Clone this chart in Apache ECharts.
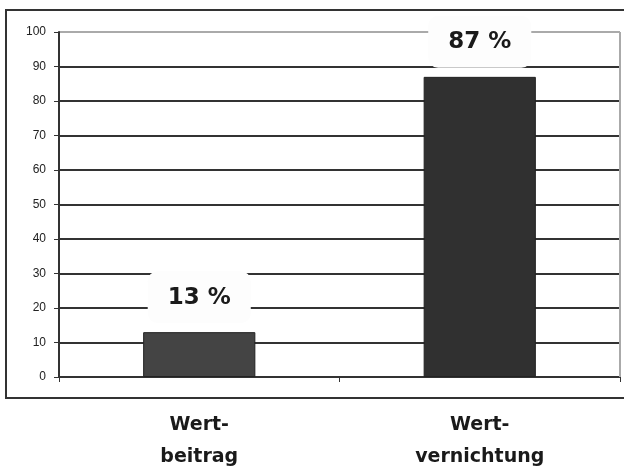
<!DOCTYPE html>
<html>
<head>
<meta charset="utf-8">
<script src="https://cdn.jsdelivr.net/npm/echarts@6/dist/echarts.min.js"></script>
<style>
  html, body { margin: 0; padding: 0; background: #fff; }
  #chart { width: 624px; height: 468px; }
</style>
</head>
<body>
<div id="chart"></div>
<script>
  var categories = ['Wert-\nbeitrag', 'Wert-\nvernichtung'];
  var values = [13, 87];
  var barColors = ['#444444', '#303030'];

  // gridlines 0..100: last one (100) is the light plot border
  var gridColors = ['#333', '#333', '#333', '#333', '#333', '#333', '#333', '#333', '#333', '#333', '#aaa'];

  var myChart = echarts.init(document.getElementById('chart'));
  myChart.setOption({
    animation: false,
    grid: {
      left: 59,
      right: 4,
      top: 32,
      bottom: 91,
      outerBoundsMode: 'none'
    },
    graphic: [{
      type: 'rect',
      shape: { x: 6, y: 10, width: 640, height: 388 },
      style: { fill: 'none', stroke: '#333', lineWidth: 2 },
      z: 0
    }, {
      type: 'line',
      shape: { x1: 620, y1: 32, x2: 620, y2: 377 },
      style: { stroke: '#aaa', lineWidth: 2 },
      z: 1
    }],
    xAxis: {
      type: 'category',
      data: categories,
      axisLine: { lineStyle: { color: '#333', width: 2 } },
      axisTick: { show: true, length: 5, lineStyle: { color: '#333' } },
      axisLabel: {
        color: '#1a1a1a',
        fontFamily: 'DejaVu Sans',
        fontWeight: 'bold',
        fontSize: 19,
        lineHeight: 32,
        margin: 32
      }
    },
    yAxis: {
      type: 'value',
      min: 0,
      max: 100,
      interval: 10,
      axisLine: { show: true, lineStyle: { color: '#333', width: 2 } },
      axisTick: { show: true, length: 5, lineStyle: { color: '#333' } },
      axisLabel: {
        color: '#222',
        fontFamily: 'Liberation Sans',
        fontSize: 12,
        margin: 13
      },
      splitLine: { lineStyle: { color: gridColors, width: 2 } }
    },
    series: [{
      type: 'bar',
      barWidth: '40%',
      data: values.map(function (v, i) {
        return { value: v, itemStyle: { color: barColors[i] } };
      }),
      itemStyle: { borderColor: '#222', borderWidth: 1 },
      label: {
        show: true,
        position: 'top',
        distance: 9,
        formatter: '{c} %',
        color: '#1a1a1a',
        fontFamily: 'DejaVu Sans',
        fontWeight: 'bold',
        fontSize: 23,
        backgroundColor: '#fdfdfd',
        borderRadius: 10,
        padding: [15, 20, 14, 20]
      },
      z: 3
    }]
  });
</script>
</body>
</html>
